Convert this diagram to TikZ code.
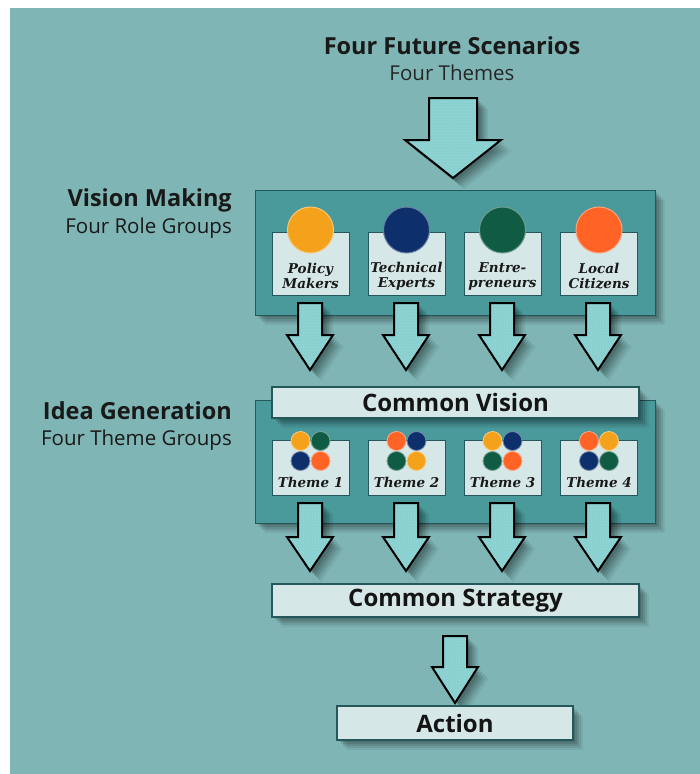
\documentclass[tikz,border=0pt]{standalone}
\usepackage{fontspec}
\setmainfont{Open Sans}
\newfontfamily\cardfont{DejaVu Serif}
\usetikzlibrary{patterns}
\definecolor{bg}{HTML}{7FB5B5}
\definecolor{boxfill}{HTML}{4A9A9C}
\definecolor{boxline}{HTML}{24585A}
\definecolor{cardfill}{HTML}{D6E7E7}
\definecolor{arrfill}{HTML}{8AD0D0}
\definecolor{arrdot}{HTML}{A9E2E2}
\definecolor{cyel}{HTML}{F4A21C}
\definecolor{cnavy}{HTML}{0D2F6C}
\definecolor{cgreen}{HTML}{0F5B44}
\definecolor{corng}{HTML}{FF6426}
\newcommand{\rshadow}[4]{%
  \foreach \s/\o in {2/0.11,4/0.11,6/0.10,8/0.08,10/0.06}{%
    \fill[black,opacity=\o] ({#1+\s},{#2+\s}) rectangle ({#3+\s},{#4+\s});}}
\newcommand{\arrpath}[6]{({#1-#5},{#2}) -- ({#1+#5},{#2}) -- ({#1+#5},{#3}) -- ({#1+#6},{#3}) -- ({#1},{#4}) -- ({#1-#6},{#3}) -- ({#1-#5},{#3}) -- cycle}
\newcommand{\blockarrow}[6]{%
  \foreach \s/\o in {3/0.11,5/0.11,7/0.10,9/0.08,11/0.06}{%
    \fill[black,opacity=\o,shift={(\s,\s)}] \arrpath{#1}{#2}{#3}{#4}{#5}{#6};}
  \fill[arrfill] \arrpath{#1}{#2}{#3}{#4}{#5}{#6};
  \fill[pattern=dots,pattern color=arrdot] \arrpath{#1}{#2}{#3}{#4}{#5}{#6};
  \draw[black,line width=2pt,line join=miter] \arrpath{#1}{#2}{#3}{#4}{#5}{#6};}
\tikzset{
  bigbox/.style={draw=boxline,fill=boxfill,line width=1.3pt,anchor=north west,inner sep=0pt},
  card/.style={draw=boxline,fill=cardfill,line width=1pt,inner sep=0pt,minimum width=77pt},
  bar/.style={draw=boxline,fill=cardfill,line width=1.2pt,inner sep=0pt,text=black!92,font=\fontsize{24}{26}\selectfont\bfseries},
  cardtxt/.style={font=\cardfont\fontsize{13.5}{15}\selectfont\bfseries\itshape,align=center,inner sep=0pt,text=black!90},
  dot/.style={circle,inner sep=0pt,minimum size=19pt,line width=0.8pt},
  bigdot/.style={circle,inner sep=0pt,minimum size=46pt,line width=1pt},
  lbl/.style={anchor=east,inner sep=0pt,text=black!90},
  headfont/.style={font=\fontsize{23.5}{26}\selectfont\bfseries},
  subfont/.style={font=\fontsize{20.5}{23}\selectfont}
}
\begin{document}
\begin{tikzpicture}[x=1pt,y=-1pt]
\useasboundingbox (0,0) rectangle (700,774);
\fill[white] (0,0) rectangle (700,774);
\fill[bg] (10,8) rectangle (700,774);
% titles
\node[headfont,text=black!90] (title) at (452,46) {Four Future Scenarios};
\node[subfont,text=black!85] (subtitle) at (452,73) {Four Themes};
\node[lbl,headfont] (vm) at (232,200) {Vision Making};
\node[lbl,subfont] (vmsub) at (232,228) {Four Role Groups};
\node[lbl,headfont] (ig) at (232,411) {Idea Generation};
\node[lbl,subfont] (igsub) at (232,440) {Four Theme Groups};
% top arrow
\blockarrow{453}{98}{140}{178}{24}{48}
% vision box
\rshadow{255}{190}{655}{315}
\node[bigbox,minimum width=400pt,minimum height=125pt] (vbox) at (255,190) {};
\foreach \cx/\col/\txt/\nm in {310.5/cyel/{Policy\\Makers}/p, 406.5/cnavy/{Technical\\Experts}/t, 502.5/cgreen/{Entre-\\preneurs}/e, 599/corng/{Local\\Citizens}/l}{
  \node[card,minimum height=63pt] (card\nm) at (\cx,263.5) {};
  \node[bigdot,fill=\col,draw=\col!60!white] (circ\nm) at (\cx,230) {};
  \node[cardtxt] (ctxt\nm) at (\cx,276) {\txt};
}
% arrows row 1
\foreach \cx in {310,406,502,598}{\blockarrow{\cx}{303}{335}{370}{12}{23}}
% idea box
\rshadow{255}{400}{655}{523}
\node[bigbox,minimum width=400pt,minimum height=123pt] (ibox) at (255,400) {};
\rshadow{272}{387}{639}{418}
\node[bar,minimum width=367pt,minimum height=31pt] (cvision) at (455.5,402.5) {Common Vision};
\foreach \cx/\a/\b/\c/\d/\n in {310.5/cyel/cgreen/cnavy/corng/1, 406.5/corng/cnavy/cgreen/cyel/2, 502.5/cyel/cnavy/cgreen/corng/3, 599/corng/cyel/cnavy/cgreen/4}{
  \node[card,minimum height=55pt] (theme\n) at (\cx,467.5) {};
  \node[dot,fill=\a,draw=\a!55!white] (d\n a) at (\cx-10,441) {};
  \node[dot,fill=\b,draw=\b!55!white] (d\n b) at (\cx+10,441) {};
  \node[dot,fill=\c,draw=\c!55!white] (d\n c) at (\cx-10,461) {};
  \node[dot,fill=\d,draw=\d!55!white] (d\n d) at (\cx+10,461) {};
  \node[cardtxt] (ttxt\n) at (\cx,482) {Theme \n};
}
% arrows row 2
\foreach \cx in {310,406,502,598}{\blockarrow{\cx}{503}{537}{571}{12}{23}}
% common strategy
\rshadow{272}{584}{639}{617}
\node[bar,minimum width=367pt,minimum height=33pt] (cstrat) at (455.5,600.5) {Common Strategy};
\blockarrow{455}{636}{667}{703}{12}{23}
\rshadow{337}{706}{573}{740}
\node[bar,minimum width=236pt,minimum height=34pt] (action) at (455,723) {Action};
\end{tikzpicture}
\end{document}
